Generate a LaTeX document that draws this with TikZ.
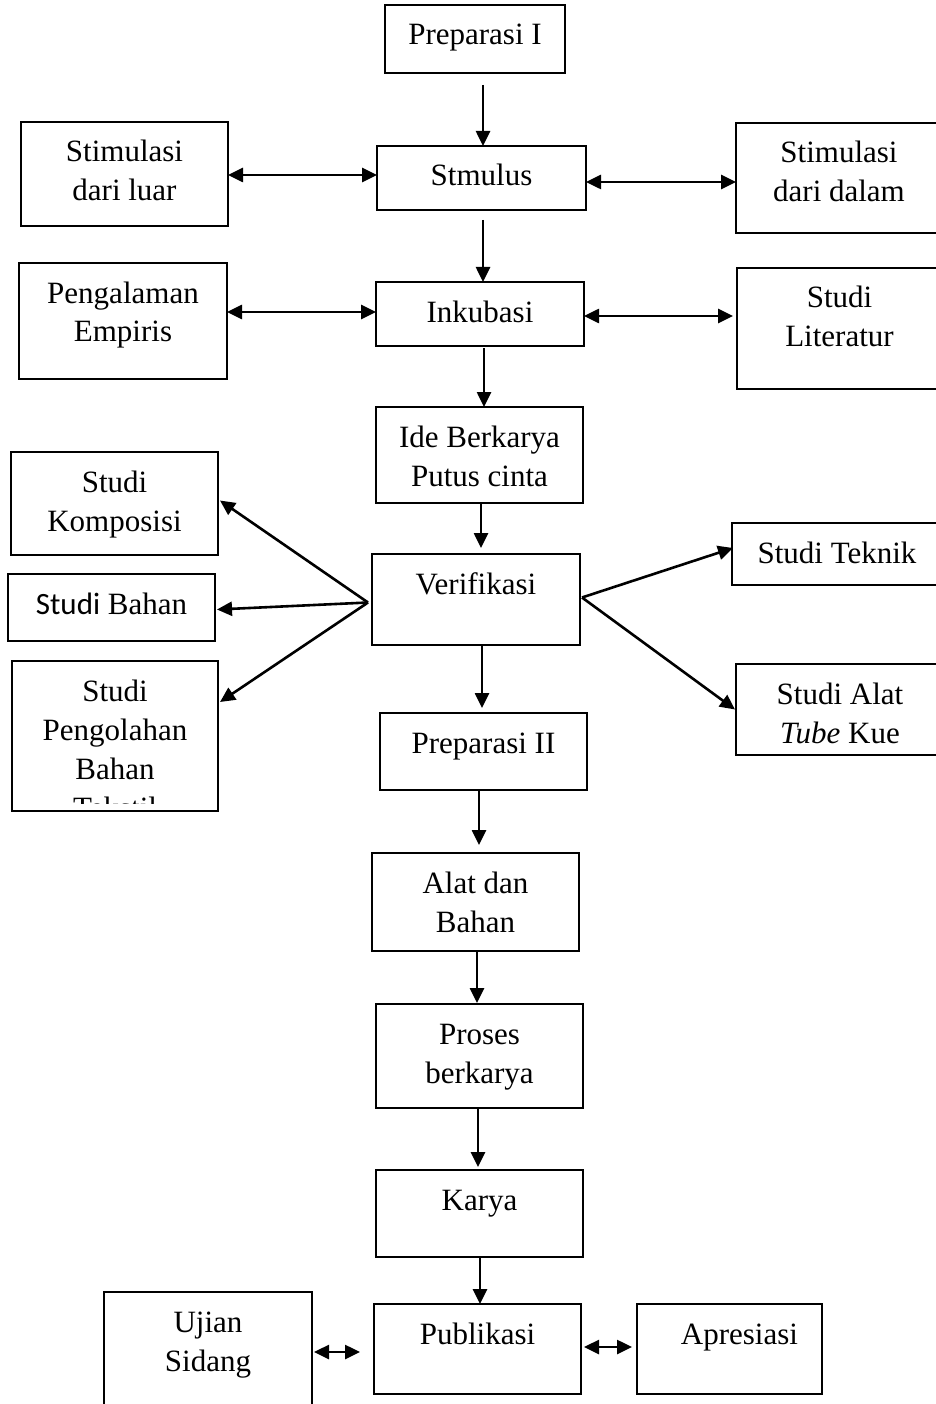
\documentclass[tikz,border=0pt]{standalone}
\usepackage{fontspec}
\setmainfont{Liberation Serif}
\newfontfamily\calfont{Carlito}
\usetikzlibrary{arrows.meta}
\newcommand\fs{\fontsize{31}{39}\selectfont}
\tikzset{
  boxsty/.style={draw=black, line width=1.2pt, rectangle, inner sep=0pt, outer sep=0pt},
  lbl/.style={anchor=base, align=flush center, text width=260pt, inner sep=0pt, font=\fs},
  arr/.style={line width=2.6pt, -{Triangle[length=15pt,width=14pt]}},
  darr/.style={line width=2.6pt, {Triangle[length=15pt,width=14pt]}-{Triangle[length=15pt,width=14pt]}}
}
% name, x1, y1, x2, y2, text
\newcommand\bx[6]{%
  \node[boxsty, minimum width={#4-#2}, minimum height={#5-#3}] (#1) at ({(#2+#4)/2},{(#3+#5)/2}) {};
  \node[lbl] (#1-t) at ([yshift=-40pt]#1.north) {#6};}
\begin{document}
\begin{tikzpicture}[x=1pt,y=-1pt]
\clip (0,0) rectangle (936,1404);
\useasboundingbox (0,0) rectangle (936,1404);
% main column
\bx{prep1}{385}{5}{565}{73}{Preparasi I}
\bx{stm}{377}{146}{586}{210}{Stmulus}
\bx{ink}{376}{282}{584}{346}{Inkubasi}
\bx{ide}{376}{407}{583}{503}{Ide Berkarya\\Putus cinta}
\bx{ver}{372}{554}{580}{645}{Verifikasi}
\bx{p2}{380}{713}{587}{790}{Preparasi II}
\bx{alat}{372}{853}{579}{951}{Alat dan\\Bahan}
\bx{pro}{376}{1004}{583}{1108}{Proses\\berkarya}
\bx{kar}{376}{1170}{583}{1257}{Karya}
\bx{pub}{374}{1304}{581}{1394}{Publikasi}
% side boxes
\bx{luar}{21}{122}{228}{226}{Stimulasi\\dari luar}
\bx{dalam}{736}{123}{942}{233}{Stimulasi\\dari dalam}
\bx{peng}{19}{263}{227}{379}{Pengalaman\\Empiris}
\bx{lit}{737}{268}{942}{389}{Studi\\Literatur}
\bx{komp}{11}{452}{218}{555}{Studi\\Komposisi}
\bx{bahan}{8}{574}{215}{641}{{\calfont Studi} Bahan}
\bx{tek}{732}{523}{942}{585}{Studi Teknik}
\bx{talat}{736}{664}{944}{755}{Studi Alat\\\textit{Tube} Kue}
\bx{uji}{104}{1292}{312}{1412}{Ujian\\Sidang}
\bx{apr}{637}{1304}{822}{1394}{}
\node[lbl] (apr-t2) at ([xshift=10pt,yshift=-40pt]apr.north) {Apresiasi};
% clipped box
\node[boxsty, minimum width=206pt, minimum height=150pt] (olah) at (115,736) {};
\begin{scope}
  \clip (12,662) rectangle (218,803);
  \node[lbl] (olah-t) at ([yshift=-40pt]olah.north) {Studi\\Pengolahan\\Bahan\\Tekstil};
\end{scope}
% vertical arrows
\draw[arr] ([xshift=8pt,yshift=-12pt]prep1.south) -- ([xshift=1.5pt]stm.north);
\draw[arr] ([xshift=1.5pt,yshift=-10pt]stm.south) -- ([xshift=3pt]ink.north);
\draw[arr] ([xshift=4pt,yshift=-2pt]ink.south) -- ([xshift=4.5pt]ide.north);
\draw[arr] ([xshift=1.5pt]ide.south) -- ([xshift=5pt,yshift=6pt]ver.north);
\draw[arr] ([xshift=6pt]ver.south) -- ([xshift=-1.5pt,yshift=5pt]p2.north);
\draw[arr] ([xshift=-4.5pt]p2.south) -- ([xshift=3.5pt,yshift=8pt]alat.north);
\draw[arr] ([xshift=1.5pt]alat.south) -- ([xshift=-2.5pt,yshift=1pt]pro.north);
\draw[arr] ([xshift=-1.5pt]pro.south) -- ([xshift=-1.5pt,yshift=3pt]kar.north);
\draw[arr] ([xshift=0.5pt]kar.south) -- ([xshift=2.5pt]pub.north);
% horizontal double arrows
\draw[darr] ([yshift=-1pt]luar.east) -- ([yshift=-1pt]luar.east -| stm.west);
\draw[darr] ([yshift=-4pt]stm.east) -- ([yshift=-4pt]stm.east -| dalam.west);
\draw[darr] ([yshift=9pt]peng.east) -- ([yshift=9pt]peng.east -| ink.west);
\draw[darr] ([yshift=-2pt]ink.east) -- ([xshift=-4pt,yshift=-2pt]ink.east -| lit.west);
\draw[darr] ([xshift=2pt]uji.east) -- ([xshift=-14pt]uji.east -| pub.west);
\draw[darr] ([xshift=3pt,yshift=2pt]pub.east) -- ([xshift=-5pt,yshift=2pt]pub.east -| apr.west);
% verification fan
\draw[arr] ([xshift=-4pt,yshift=-3pt]ver.west) -- ([xshift=2pt,yshift=3pt]komp.east);
\draw[arr] ([xshift=-4pt,yshift=-3pt]ver.west) -- ([xshift=2pt,yshift=-2pt]bahan.east);
\draw[arr] ([xshift=-4pt,yshift=-3pt]ver.west) -- ([xshift=2pt,yshift=34pt]olah.east);
\draw[arr] ([xshift=2pt,yshift=2pt]ver.east) -- ([xshift=1pt,yshift=6pt]tek.west);
\draw[arr] ([xshift=2pt,yshift=2pt]ver.east) -- ([xshift=-1pt]talat.west);
\end{tikzpicture}
\end{document}
